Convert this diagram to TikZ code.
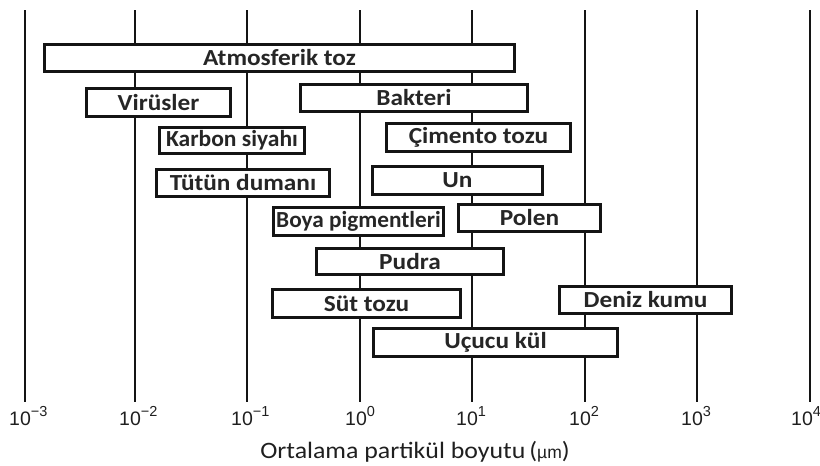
\documentclass[tikz,border=0pt]{standalone}
\usepackage{fontspec}
\setmainfont{Carlito}[FakeStretch=1.1]
\newfontfamily\tickfont{Liberation Sans}
\newcommand{\tl}[1]{10\raisebox{0.45em}{\fontsize{14.5}{15}\selectfont #1}}
\begin{document}
\begin{tikzpicture}[x=1pt,y=-1pt,
  gridline/.style={line width=2.6pt,black!92},
  pbox/.style={draw=black!92,line width=2.8pt,fill=white,inner sep=0pt,font=\fontsize{23}{26}\selectfont\bfseries,text=black!85},
  ticklab/.style={font=\tickfont\fontsize{19.5}{21}\selectfont,text=black!88,anchor=base west,inner sep=0pt},
]
\useasboundingbox (0,0) rectangle (820,466);
\foreach \x in {25,135,247,360,472,585,697,810}{
  \draw[gridline] (\x,10) -- (\x,402);
}
\newcommand{\pb}[6]{% name, left, top, right, bottom, text
  \node[pbox,minimum width={#4-#2-2.8},minimum height={#5-#3-2.8}] (#1) at ({(#2+#4)/2},{(#3+#5)/2}) {#6};}
\pb{atm}{43}{43}{516}{73}{Atmosferik toz}
\pb{vir}{85}{87}{232}{118}{Virüsler}
\pb{bak}{299}{83}{529}{113}{Bakteri}
\pb{kar}{158}{126}{306}{155}{\scalebox{0.93}[1]{Karbon siyahı}}
\pb{cim}{385}{122}{572}{153}{Çimento tozu}
\pb{tut}{155}{168}{331}{198}{Tütün dumanı}
\pb{un}{371}{165}{544}{196}{Un}
\pb{boy}{272}{206}{445}{237}{\scalebox{0.92}[1]{Boya pigmentleri}}
\pb{pol}{457}{203}{602}{233}{Polen}
\pb{pud}{315}{247}{505}{276}{Pudra}
\pb{sut}{271}{288}{462}{319}{Süt tozu}
\pb{den}{558}{285}{733}{315}{Deniz kumu}
\pb{ucu}{372}{327}{619}{358}{Uçucu kül}
\node[ticklab] (t1) at (9,425) {\tl{−3}};
\node[ticklab] (t2) at (119,425) {\tl{−2}};
\node[ticklab] (t3) at (231,425) {\tl{−1}};
\node[ticklab] (t4) at (345,425) {\tl{0}};
\node[ticklab] (t5) at (456,425) {\tl{1}};
\node[ticklab] (t6) at (569,425) {\tl{2}};
\node[ticklab] (t7) at (681,425) {\tl{3}};
\node[ticklab] (t8) at (791,425) {\tl{4}};
\node[font=\fontsize{23.5}{26}\selectfont,text=black!88] (title) at (415,452) {Ortalama partikül boyutu\,({\tickfont\fontsize{17.5}{18}\selectfont µm})};
\end{tikzpicture}
\end{document}
